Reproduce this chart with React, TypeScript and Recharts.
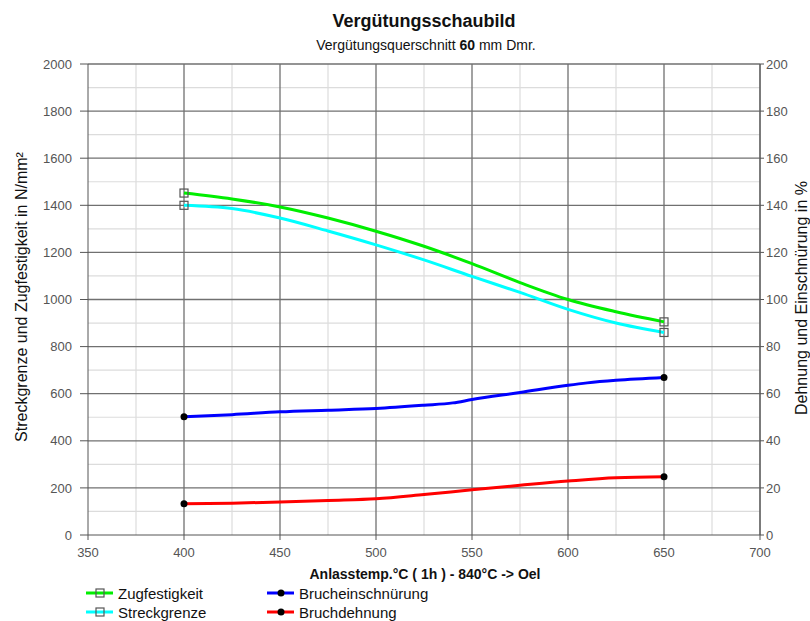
import React from "react";
import {
  LineChart,
  Line,
  XAxis,
  YAxis,
  CartesianGrid,
  Legend,
  Customized,
} from "recharts";

// Tempering temperatures (°C) for each sampled curve point
const zugTemps = [400, 425, 450, 475, 500, 525, 550, 575, 600, 625, 650];
const zugValues = [1452, 1427, 1393, 1346, 1290, 1226, 1152, 1072, 1000, 948, 905];

const streckTemps = [400, 425, 450, 475, 500, 525, 550, 575, 600, 625, 650];
const streckValues = [1400, 1386, 1346, 1291, 1232, 1168, 1098, 1030, 958, 900, 860];

const einschTemps = [400, 425, 450, 475, 500, 525, 540, 550, 575, 600, 610, 625, 650];
const einschValues = [50.2, 51.1, 52.3, 53.0, 53.7, 55.1, 56.1, 57.5, 60.5, 63.6, 64.6, 65.7, 66.9];

const dehnTemps = [400, 425, 450, 475, 500, 525, 550, 575, 600, 625, 650];
const dehnValues = [13.3, 13.5, 14.0, 14.7, 15.4, 17.2, 19.2, 21.1, 22.9, 24.3, 24.7];

const xTicks = [350, 400, 450, 500, 550, 600, 650, 700];
const leftTicks = [0, 200, 400, 600, 800, 1000, 1200, 1400, 1600, 1800, 2000];
const rightTicks = [0, 20, 40, 60, 80, 100, 120, 140, 160, 180, 200];

const toRows = (xs: number[], ys: number[]) => xs.map((t, i) => ({ t, v: ys[i] }));

const zugData = toRows(zugTemps, zugValues);
const streckData = toRows(streckTemps, streckValues);
const einschData = toRows(einschTemps, einschValues);
const dehnData = toRows(dehnTemps, dehnValues);

const FONT = "'Liberation Sans', Arial, sans-serif";

const minorY: number[] = [];
for (let v = 100; v < 2000; v += 200) minorY.push(v);
const majorY: number[] = [];
for (let v = 200; v <= 2000; v += 200) majorY.push(v);
const minorX: number[] = [];
for (let v = 375; v < 700; v += 50) minorX.push(v);
const majorX: number[] = [];
for (let v = 400; v <= 700; v += 50) majorX.push(v);

// Markers only at the measured end points of each curve
const squareDot = (len: number) => (p: any) => {
  const { cx, cy, index } = p;
  if (index !== 0 && index !== len - 1) return <g key={`s${index}`} />;
  return (
    <rect
      key={`s${index}`}
      x={cx - 4}
      y={cy - 4}
      width={8}
      height={8}
      fill="none"
      stroke="#555"
      strokeWidth={1.2}
    />
  );
};

const roundDot = (len: number) => (p: any) => {
  const { cx, cy, index } = p;
  if (index !== 0 && index !== len - 1) return <g key={`c${index}`} />;
  return <circle key={`c${index}`} cx={cx} cy={cy} r={3.5} fill="#000" />;
};

const legendItems = [
  { label: "Zugfestigkeit", color: "#00ee00", mark: "square", x: 86, y: 8 },
  { label: "Streckgrenze", color: "#00ffff", mark: "square", x: 86, y: 27 },
  { label: "Brucheinschnürung", color: "#0000ff", mark: "circle", x: 267, y: 8 },
  { label: "Bruchdehnung", color: "#ff0000", mark: "circle", x: 267, y: 27 },
];

const LegendContent = () => (
  <svg width={810} height={36} style={{ display: "block" }}>
    {legendItems.map((it) => (
      <g key={it.label}>
        <line x1={it.x} x2={it.x + 27} y1={it.y} y2={it.y} stroke={it.color} strokeWidth={3} />
        {it.mark === "square" ? (
          <rect x={it.x + 10} y={it.y - 4} width={8} height={8} fill="none" stroke="#555" strokeWidth={1.2} />
        ) : (
          <circle cx={it.x + 14} cy={it.y} r={3.5} fill="#000" />
        )}
        <text
          x={it.x + 32}
          y={it.y}
          dominantBaseline="central"
          fontFamily={FONT}
          fontSize={15}
          fill="#111"
        >
          {it.label}
        </text>
      </g>
    ))}
  </svg>
);

const Titles = () => (
  <g fontFamily={FONT}>
    <text x={424} y={27} textAnchor="middle" fontSize={18} fontWeight="bold" fill="#111">
      Vergütungsschaubild
    </text>
    <text x={426} y={50} textAnchor="middle" fontSize={14} fill="#111">
      Vergütungsquerschnitt <tspan fontWeight="bold">60</tspan> mm Dmr.
    </text>
    <text x={425} y={579} textAnchor="middle" fontSize={14} fontWeight="bold" fill="#111">
      Anlasstemp.°C ( 1h ) - 840°C -&gt; Oel
    </text>
    <text
      x={21}
      y={297}
      textAnchor="middle"
      dominantBaseline="central"
      fontSize={16}
      fill="#111"
      transform="rotate(-90 21 297)"
    >
      Streckgrenze und Zugfestigkeit in N/mm²
    </text>
    <text
      x={801}
      y={298}
      textAnchor="middle"
      dominantBaseline="central"
      fontSize={16}
      fill="#111"
      transform="rotate(-90 801 298)"
    >
      Dehnung und Einschnürung in %
    </text>
  </g>
);

const tickStyle = { fontSize: 13, fill: "#555", fontFamily: FONT };

export default function App() {
  return (
    <div style={{ position: "absolute", left: 0, top: 0, background: "#fff" }}>
      <LineChart width={810} height={621} margin={{ top: 64, right: 0, bottom: 0, left: 0 }}>
        <XAxis
          dataKey="t"
          type="number"
          domain={[350, 700]}
          ticks={xTicks}
          allowDataOverflow
          height={50}
          tick={tickStyle}
          tickSize={5}
          tickMargin={8}
          stroke="#555"
        />
        <YAxis
          yAxisId="l"
          type="number"
          domain={[0, 2000]}
          ticks={leftTicks}
          width={88}
          tick={tickStyle}
          tickSize={8}
          tickMargin={8}
          stroke="#555"
        />
        <YAxis
          yAxisId="r"
          orientation="right"
          type="number"
          domain={[0, 200]}
          ticks={rightTicks}
          width={50}
          tick={tickStyle}
          tickSize={4}
          tickMargin={2}
          stroke="#555"
        />
        <CartesianGrid
          yAxisId="l"
          horizontalValues={minorY}
          verticalValues={minorX}
          stroke="#dcdcdc"
          strokeWidth={1.2}
        />
        <CartesianGrid
          yAxisId="l"
          horizontalValues={majorY}
          verticalValues={majorX}
          stroke="#707070"
          strokeWidth={1.3}
        />
        <Line
          yAxisId="l"
          data={zugData}
          dataKey="v"
          type="monotone"
          stroke="#00ee00"
          strokeWidth={3}
          dot={squareDot(zugData.length)}
          activeDot={false}
          isAnimationActive={false}
          name="Zugfestigkeit"
        />
        <Line
          yAxisId="l"
          data={streckData}
          dataKey="v"
          type="monotone"
          stroke="#00ffff"
          strokeWidth={3}
          dot={squareDot(streckData.length)}
          activeDot={false}
          isAnimationActive={false}
          name="Streckgrenze"
        />
        <Line
          yAxisId="r"
          data={einschData}
          dataKey="v"
          type="monotone"
          stroke="#0000ff"
          strokeWidth={3}
          dot={roundDot(einschData.length)}
          activeDot={false}
          isAnimationActive={false}
          name="Brucheinschnürung"
        />
        <Line
          yAxisId="r"
          data={dehnData}
          dataKey="v"
          type="monotone"
          stroke="#ff0000"
          strokeWidth={3}
          dot={roundDot(dehnData.length)}
          activeDot={false}
          isAnimationActive={false}
          name="Bruchdehnung"
        />
        <Legend
          verticalAlign="bottom"
          align="left"
          height={36}
          content={<LegendContent />}
          wrapperStyle={{ left: 0, width: 810, height: 36 }}
        />
        <Customized component={<Titles />} />
      </LineChart>
    </div>
  );
}
